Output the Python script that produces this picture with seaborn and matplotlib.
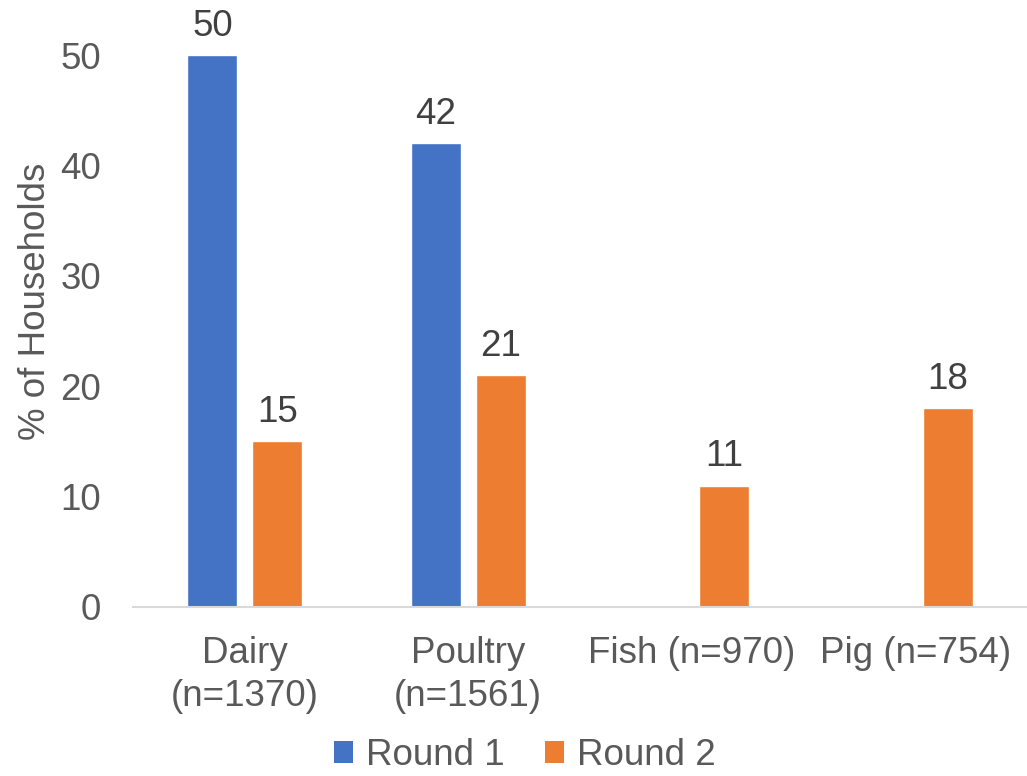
import numpy as np
import pandas as pd
import matplotlib
matplotlib.use("Agg")
import matplotlib.pyplot as plt
import seaborn as sns
from matplotlib.patches import Patch

categories = ["Dairy\n(n=1370)", "Poultry\n(n=1561)", "Fish (n=970)", "Pig (n=754)"]
round1 = [50, 42, np.nan, np.nan]
round2 = [15, 21, 11, 18]
series_names = ["Round 1", "Round 2"]
colors = ["#4472C4", "#ED7D31"]
y_ticks = [0, 10, 20, 30, 40, 50]

df = pd.DataFrame({
    "category": categories * 2,
    "round": [series_names[0]] * 4 + [series_names[1]] * 4,
    "value": round1 + round2,
})

sns.set_theme(style="white")
plt.rcParams["font.family"] = ["Liberation Sans", "DejaVu Sans"]
FS = 26.5

fig = plt.figure(figsize=(10.27, 7.76), dpi=100)
ax = fig.add_axes([0.1295, 0.2178, 0.8705, 0.7113])

sns.barplot(data=df, x="category", y="value", hue="round", order=categories,
            hue_order=series_names, palette=colors, width=0.58, gap=0.23,
            saturation=1, ax=ax, legend=False, errorbar=None)

for cont in ax.containers:
    vals = [v for v in cont.datavalues]
    ax.bar_label(cont, labels=[f"{v:.0f}" if np.isfinite(v) else "" for v in vals],
                 padding=8, fontsize=FS, color="#404040", clip_on=False)

ax.set_ylim(0, 50)
ax.set_xlim(-0.5, 3.5)
ax.set_yticks(y_ticks)
ax.tick_params(axis="y", length=0, pad=23, labelsize=FS, labelcolor="#595959")
ax.tick_params(axis="x", length=0, pad=21, labelsize=FS, labelcolor="#595959")
for lbl in ax.get_xticklabels():
    lbl.set_linespacing(1.3)
ax.set_xlabel("")
ax.set_ylabel("% of Households", fontsize=FS, color="#595959")
ax.yaxis.set_label_coords(-0.09, 0.553)

for side in ["top", "right", "left"]:
    ax.spines[side].set_visible(False)
ax.spines["bottom"].set_color("#D9D9D9")
ax.spines["bottom"].set_linewidth(1.5)

handles = [Patch(facecolor=c, edgecolor="none") for c in colors]
fig.legend(handles, series_names, loc="lower center", bbox_to_anchor=(0.511, -0.039),
           ncol=2, frameon=False, fontsize=FS, labelcolor="#595959",
           handlelength=0.52, handleheight=0.52, handletextpad=0.35,
           columnspacing=1.1)

fig.savefig("out.png", dpi=100)
